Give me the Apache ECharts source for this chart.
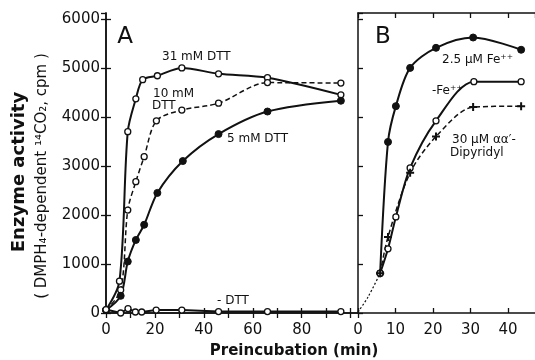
<!DOCTYPE html>
<html><head><meta charset="utf-8">
<script src="https://cdn.jsdelivr.net/npm/echarts@6/dist/echarts.min.js"></script>
<style>html,body{margin:0;padding:0;background:#fff}#c{width:535px;height:360px}</style>
</head><body><div id="c"></div>
<script>
// Panel A: enzyme activity vs preincubation (min) for DTT concentrations
const dtt31 = [[0,60],[5.5,650],[8.9,3700],[12.2,4370],[15,4760],[21,4840],[31,5000],[46,4880],[66,4800],[96,4450]];
const dtt10 = [[0,60],[6,470],[8.9,2100],[12.2,2680],[15.6,3190],[20.6,3920],[31,4140],[46,4280],[66,4700],[96,4690]];
const dtt5  = [[0,60],[6,350],[8.9,1050],[12.2,1490],[15.6,1800],[21,2450],[31.4,3100],[46,3650],[66,4110],[96,4330]];
const dttNone = [[0,70],[6,0],[9,90],[12,20],[14.6,20],[20.5,60],[31,60],[46,30],[66,30],[96,30]];
// Panel B
const bStart = [[0,20],[2.7,330],[5.9,810]];
const fe25  = [[5.9,810],[8,3490],[10.1,4220],[13.9,5000],[20.8,5410],[30.7,5620],[43.5,5370]];
const feNone = [[5.9,810],[8,1310],[10.1,1960],[13.9,2960],[20.8,3920],[30.9,4720],[43.5,4720]];
const dipy  = [[5.9,810],[8,1550],[13.9,2860],[20.8,3600],[30.7,4200],[43.5,4220]];
const yTicks = [0,1000,2000,3000,4000,5000,6000];
const xTicksA = [0,20,40,60,80];
const xTicksB = [0,10,20,30,40];

const K = '#111';
const FONT = 'DejaVu Sans';
const chart = echarts.init(document.getElementById('c'));
const plus = 'path://M3,0h2v3h3v2h-3v3h-2v-3h-3v-2h3z';
function ln(name, data, xi, opts) {
  return Object.assign({
    name, type:'line', data, xAxisIndex:xi, yAxisIndex: xi===0?0:2,
    smooth:0.3, clip:false,
    lineStyle:{color:K,width:2}, itemStyle:{color:'#fff',borderColor:K,borderWidth:1.3},
    symbol:'circle', symbolSize:6, z:3
  }, opts||{});
}
const axLine = {show:true, lineStyle:{color:K,width:1.5}};
const tick = {show:true, inside:true, length:5, lineStyle:{color:K,width:1.3}};
chart.setOption({
  animation:false,
  grid:[
    {left:106, top:13, width:252, height:300},
    {left:358, top:13, width:177, height:300}
  ],
  xAxis:[
    {gridIndex:0, type:'value', min:0, max:103, interval:10, position:'bottom',
     axisLine:axLine, axisTick:tick, splitLine:{show:false},
     axisLabel:{color:K, fontFamily:FONT, fontSize:15, margin:10, showMaxLabel:false,
       formatter:v=> xTicksA.indexOf(v)>=0 ? String(v) : ''}},
    {gridIndex:0, type:'value', min:0, max:103, interval:10, position:'top',
     axisLine:axLine, axisTick:tick, splitLine:{show:false}, axisLabel:{show:false}},
    {gridIndex:1, type:'value', min:0, max:47.2, interval:10, position:'bottom',
     axisLine:axLine, axisTick:tick, splitLine:{show:false},
     axisLabel:{color:K, fontFamily:FONT, fontSize:15, margin:10, showMaxLabel:false,
       formatter:v=> xTicksB.indexOf(v)>=0 ? String(v) : ''}},
    {gridIndex:1, type:'value', min:0, max:47.2, interval:10, position:'top',
     axisLine:axLine, axisTick:tick, splitLine:{show:false}, axisLabel:{show:false}}
  ],
  yAxis:[
    {gridIndex:0, type:'value', min:0, max:6120, interval:1000, position:'left',
     axisLine:axLine, axisTick:tick, splitLine:{show:false},
     axisLabel:{color:K, fontFamily:FONT, fontSize:15, margin:6, showMaxLabel:false,
       formatter:v=> yTicks.indexOf(v)>=0 ? String(v) : ''}},
    {gridIndex:0, type:'value', min:0, max:6120, interval:1000, position:'right',
     axisLine:axLine, axisTick:tick, splitLine:{show:false}, axisLabel:{show:false}},
    {gridIndex:1, type:'value', min:0, max:6120, interval:1000, position:'left',
     axisLine:axLine, axisTick:tick, splitLine:{show:false}, axisLabel:{show:false}}
  ],
  series:[
    ln('31 mM DTT', dtt31, 0),
    ln('10 mM DTT', dtt10, 0, {lineStyle:{color:K,width:1.5,type:[5,3]}}),
    ln('5 mM DTT', dtt5, 0, {itemStyle:{color:K,borderColor:K}, symbolSize:7}),
    ln('-DTT', dttNone, 0, {smooth:false, lineStyle:{color:K,width:2}}),
    ln('start', bStart, 2, {lineStyle:{color:K,width:1.2,type:[2,2]}, symbol:'none'}),
    ln('2.5 µM Fe++', fe25, 2, {itemStyle:{color:K,borderColor:K}, symbolSize:7}),
    ln('-Fe++', feNone, 2),
    ln('Dipyridyl', dipy, 2, {lineStyle:{color:K,width:1.5,type:[5,3]}, symbol:plus, symbolSize:8,
       itemStyle:{color:K,borderColor:K,borderWidth:0}})
  ],
  graphic:[
    {type:'text', x:125, y:37, style:{text:'A', font:'23px '+FONT, fill:K, textAlign:'center', textVerticalAlign:'middle'}},
    {type:'text', x:383, y:37, style:{text:'B', font:'23px '+FONT, fill:K, textAlign:'center', textVerticalAlign:'middle'}},
    {type:'text', x:162, y:57, style:{text:'31 mM DTT', font:'12px '+FONT, fill:K, textAlign:'left', textVerticalAlign:'middle'}},
    {type:'text', x:153, y:94, style:{text:'10 mM', font:'12px '+FONT, fill:K, textAlign:'left', textVerticalAlign:'middle'}},
    {type:'text', x:152, y:106, style:{text:'DTT', font:'12px '+FONT, fill:K, textAlign:'left', textVerticalAlign:'middle'}},
    {type:'text', x:227, y:139, style:{text:'5 mM DTT', font:'12px '+FONT, fill:K, textAlign:'left', textVerticalAlign:'middle'}},
    {type:'text', x:217, y:301, style:{text:'- DTT', font:'12px '+FONT, fill:K, textAlign:'left', textVerticalAlign:'middle'}},
    {type:'text', x:442, y:60, style:{text:'2.5 µM Fe⁺⁺', font:'12px '+FONT, fill:K, textAlign:'left', textVerticalAlign:'middle'}},
    {type:'text', x:432, y:91, style:{text:'-Fe⁺⁺', font:'12px '+FONT, fill:K, textAlign:'left', textVerticalAlign:'middle'}},
    {type:'text', x:452, y:140, style:{text:'30 µM αα′-', font:'12px '+FONT, fill:K, textAlign:'left', textVerticalAlign:'middle'}},
    {type:'text', x:450, y:153, style:{text:'Dipyridyl', font:'12px '+FONT, fill:K, textAlign:'left', textVerticalAlign:'middle'}},
    {type:'text', x:19, y:172, rotation:Math.PI/2, style:{text:'Enzyme activity', font:'bold 18px '+FONT, fill:K, textAlign:'center', textVerticalAlign:'middle'}},
    {type:'text', x:42, y:176, rotation:Math.PI/2, style:{text:'( DMPH₄-dependent ¹⁴CO₂, cpm )', font:'15px '+FONT, fill:K, textAlign:'center', textVerticalAlign:'middle'}},
    {type:'text', x:294, y:351, style:{text:'Preincubation (min)', font:'bold 15px '+FONT, fill:K, textAlign:'center', textVerticalAlign:'middle'}}
  ]
});
</script></body></html>
